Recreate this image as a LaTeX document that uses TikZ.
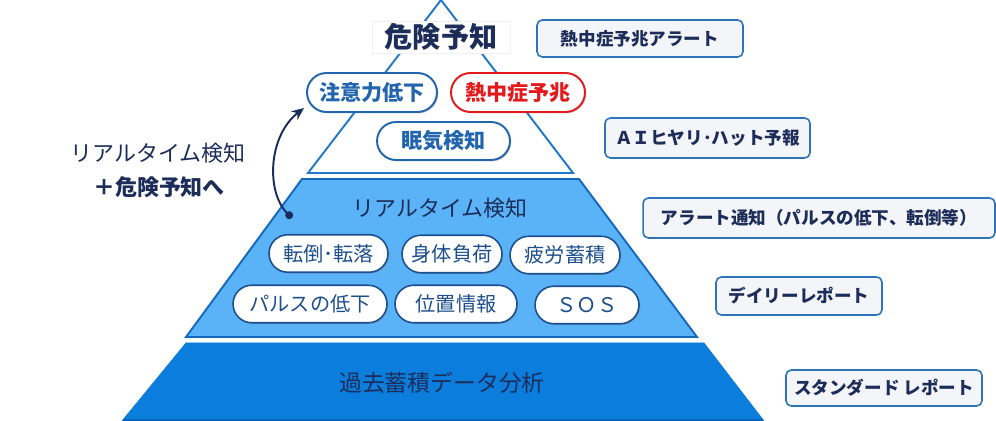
\documentclass[tikz,border=0pt]{standalone}
\usepackage{fontspec}
\setmainfont{Noto Sans CJK JP}
\usepackage{tikz}
\usetikzlibrary{shapes.misc,arrows.meta,positioning,shadows}

\definecolor{navy}{HTML}{1C2D5A}
\definecolor{topblue}{HTML}{2265AE}
\definecolor{heatred}{HTML}{E3191B}
\definecolor{triline}{HTML}{1F78C8}
\definecolor{midfill}{HTML}{5BB3F7}
\definecolor{midline}{HTML}{1569BD}
\definecolor{botfill}{HTML}{0B7DDC}
\definecolor{botline}{HTML}{0866BA}
\definecolor{pillline}{HTML}{1B4F8F}
\definecolor{pilltext}{HTML}{1D4F8C}
\definecolor{boxline}{HTML}{2D74BB}
\definecolor{boxfill}{HTML}{F3F5F8}
\definecolor{arrcol}{HTML}{1A2C5C}

\begin{document}
\begin{tikzpicture}[x=0.02cm,y=-0.02cm,
  pill/.style={rounded rectangle, draw=pillline, line width=0.9pt, fill=white,
    minimum height=0.75cm, inner sep=0pt, text=pilltext,
    font=\fontsize{11.5}{13}\selectfont,
    drop shadow={shadow xshift=0.8pt, shadow yshift=-0.8pt, opacity=0.35}},
  toppill/.style={pill, draw=topblue, line width=1.1pt, text=topblue,
    minimum height=0.78cm, font=\bfseries\fontsize{12}{14}\selectfont},
  info/.style={rectangle, rounded corners=3pt, draw=boxline, line width=0.9pt,
    fill=boxfill, inner sep=0pt, text=navy,
    font=\bfseries\fontsize{10}{12}\selectfont},
  lbl/.style={text=navy, font=\fontsize{12.5}{15}\selectfont},
  curarr/.style={draw=arrcol, line width=1.1pt, {Circle[length=4.5pt]}-{Stealth[length=7pt,width=6pt]}}
]
\useasboundingbox (0,0) rectangle (996,421);

% Pyramid levels
\draw[fill=botfill, draw=botfill] (186,343) -- (704,343) -- (764,421) -- (122,421) -- cycle;
\draw[botline, line width=1.4pt] (123,420) -- (763,420);
\draw[fill=midfill, draw=midline, line width=1.1pt] (302,179) -- (579,179) -- (697,337) -- (186,337) -- cycle;
\draw[fill=white, draw=triline, line width=1.1pt] (441,0) -- (573,173) -- (308,173) -- cycle;

% Top level
\node[fill=white, draw=gray!12, minimum width=2.76cm, minimum height=0.64cm, inner sep=0pt,
  text=navy, font=\bfseries\fontsize{16}{18}\selectfont] (kiken) at (441,37) {危険予知};
\node[toppill, minimum width=2.6cm] (chui) at (372,92.5) {注意力低下};
\node[toppill, minimum width=2.68cm, draw=heatred, text=heatred] (nettyu) at (518,92.5) {熱中症予兆};
\node[toppill, minimum width=2.66cm, minimum height=0.76cm] (nemuke) at (443.5,141) {眠気検知};

% Middle level
\node[text=navy, font=\fontsize{12.5}{15}\selectfont] (rt) at (440,208) {リアルタイム検知};
\node[pill, minimum width=2.38cm] (tentou) at (328.5,253.5) {転倒･転落};
\node[pill, minimum width=2.0cm] (shintai) at (452,254) {身体負荷};
\node[pill, minimum width=2.2cm] (hirou) at (565,255) {疲労蓄積};
\node[pill, minimum width=3.08cm] (pulse) at (310,304) {パルスの低下};
\node[pill, minimum width=2.44cm] (ichi) at (456,304) {位置情報};
\node[pill, minimum width=2.08cm] (sos) at (587,305) {ＳＯＳ};

% Bottom level
\node[text=navy, font=\fontsize{13}{15}\selectfont] (kako) at (442,383) {過去蓄積データ分析};

% Outputs
\node[info, minimum width=4.12cm, minimum height=0.74cm] (o1) at (640,38.5) {熱中症予兆アラート};
\node[info, minimum width=4.10cm, minimum height=0.80cm] (o2) at (707.5,138) {ＡＩヒヤリ･ハット予報};
\node[info, minimum width=7.04cm, minimum height=0.80cm] (o3) at (819,218) {アラート通知（パルスの低下、転倒等）};
\node[info, minimum width=3.32cm, minimum height=0.76cm] (o4) at (799,296) {デイリーレポート};
\node[info, minimum width=3.92cm, minimum height=0.72cm] (o5) at (884,388) {スタンダード レポート};

% Left note and arrow
\node[lbl] (note1) at (158,153) {リアルタイム検知};
\node[lbl, font=\bfseries\fontsize{12.5}{15}\selectfont] (note2) at (159,187) {＋危険予知へ};
\coordinate (arrS) at (292,218);
\coordinate (arrE) at (304,108);
\draw[curarr] (arrS) .. controls (266,192) and (268,136) .. (arrE);
\end{tikzpicture}
\end{document}
